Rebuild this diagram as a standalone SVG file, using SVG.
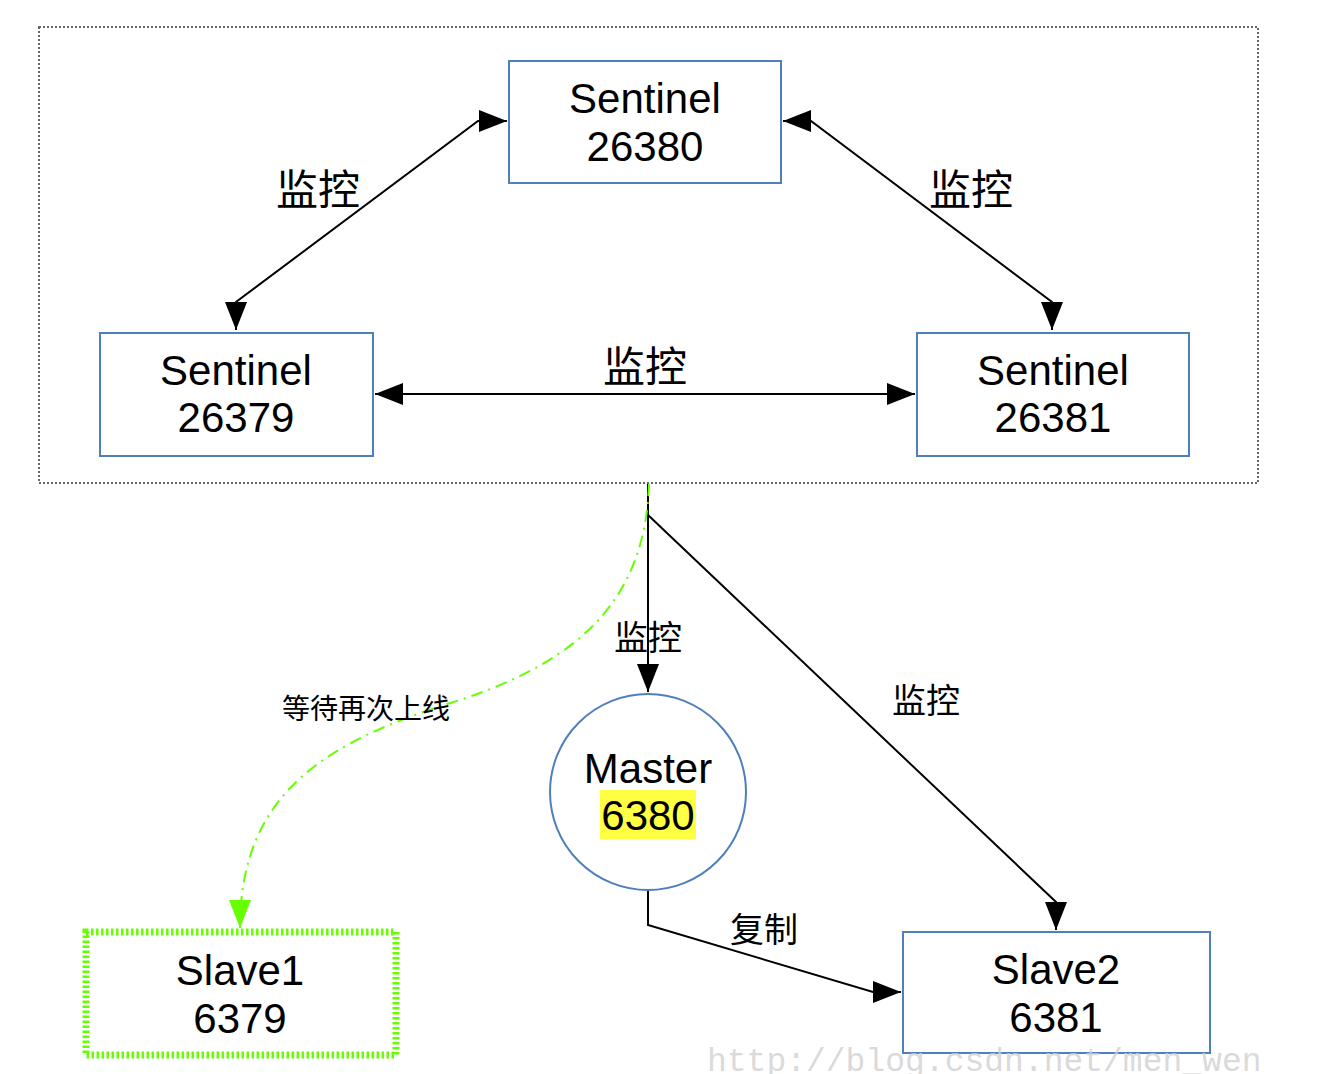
<svg xmlns="http://www.w3.org/2000/svg" width="1334" height="1074" viewBox="0 0 1334 1074">
<defs>
<marker id="arr" viewBox="0 0 28 22" refX="28" refY="11" markerWidth="28" markerHeight="22" markerUnits="userSpaceOnUse" orient="auto-start-reverse"><path d="M0,0 L28,11 L0,22 z" fill="#000"/></marker>
<marker id="garr" viewBox="0 0 28 22" refX="28" refY="11" markerWidth="28" markerHeight="22" markerUnits="userSpaceOnUse" orient="auto"><path d="M0,0 L28,11 L0,22 z" fill="#66ff00"/></marker>
</defs>
<style>
.box{fill:#fff;stroke:#4f7fbf;stroke-width:2}
.t{font-family:"Liberation Sans",Arial,sans-serif;font-size:42px;fill:#000;text-anchor:middle}
.c{font-family:"Noto Sans CJK SC","Noto Sans",sans-serif;fill:#000;text-anchor:middle}
.ln{fill:none;stroke:#000;stroke-width:2}
</style>
<rect width="1334" height="1074" fill="#fff"/>
<rect id="cluster" x="39" y="27" width="1219" height="456" fill="none" stroke="#666" stroke-width="2" stroke-dasharray="2 2"/>
<g id="connectors">
<path class="ln" d="M507,121 L478,121 L236,302 L236,330" marker-start="url(#arr)" marker-end="url(#arr)"/>
<path class="ln" d="M783,121 L811,121 L1052,302 L1052,330" marker-start="url(#arr)" marker-end="url(#arr)"/>
<path class="ln" d="M375,394 L915,394" marker-start="url(#arr)" marker-end="url(#arr)"/>
<path class="ln" d="M648,484 L648,692" marker-end="url(#arr)"/>
<path class="ln" d="M648,515 L1056,902 L1056,930" marker-end="url(#arr)"/>
<path class="ln" d="M648,891 L648,925 L873,992 L901,992" marker-end="url(#arr)"/>
<path d="M649,484 C645,600 580,660 460,700 C330,740 240,790 240,928" fill="none" stroke="#66ff00" stroke-width="2" stroke-dasharray="12 6 2 6" marker-end="url(#garr)"/>
<text class="c" x="318" y="205" font-size="42">监控</text>
<text class="c" x="971" y="205" font-size="42">监控</text>
<text class="c" x="645" y="382" font-size="42">监控</text>
<text class="c" x="648" y="650" font-size="34">监控</text>
<text class="c" x="926" y="713" font-size="34">监控</text>
<text class="c" x="764" y="942" font-size="34">复制</text>
<text class="c" x="366" y="719" font-size="28">等待再次上线</text>
</g>
<g id="sentinel26380"><rect class="box" x="509" y="61" width="272" height="122"/><text class="t" x="645" y="113">Sentinel</text><text class="t" x="645" y="161">26380</text></g>
<g id="sentinel26379"><rect class="box" x="100" y="333" width="273" height="123"/><text class="t" x="236" y="385">Sentinel</text><text class="t" x="236" y="432">26379</text></g>
<g id="sentinel26381"><rect class="box" x="917" y="333" width="272" height="123"/><text class="t" x="1053" y="385">Sentinel</text><text class="t" x="1053" y="432">26381</text></g>
<g id="master"><circle cx="648" cy="792" r="98" fill="#fff" stroke="#4f7fbf" stroke-width="2"/><rect x="600" y="790" width="96" height="49" fill="#ffff44"/><text class="t" x="648" y="783">Master</text><text class="t" x="648" y="830">6380</text></g>
<g id="slave1"><rect x="86" y="932" width="310" height="123" fill="none" stroke="#66ff00" stroke-width="7" stroke-dasharray="2.5 2.5"/><text class="t" x="240" y="985">Slave1</text><text class="t" x="240" y="1033">6379</text></g>
<g id="slave2"><rect class="box" x="903" y="932" width="307" height="121"/><text class="t" x="1056" y="984">Slave2</text><text class="t" x="1056" y="1032">6381</text></g>
<text x="707" y="1071" font-family="Liberation Mono,monospace" font-size="33" fill="#d0d0d0" fill-opacity="0.8">http://blog.csdn.net/men_wen</text>
</svg>
